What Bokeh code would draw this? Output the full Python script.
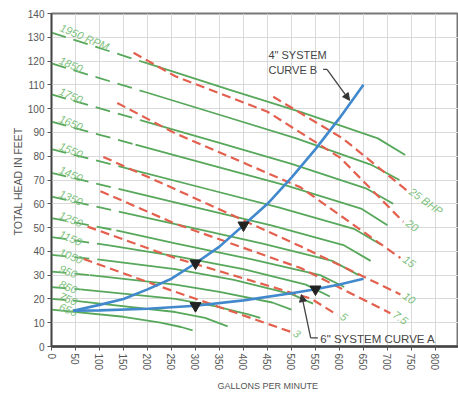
from bokeh.plotting import figure
from bokeh.models import Range1d, FixedTicker, Title, Arrow, NormalHead
from bokeh.core.properties import value
from bokeh.embed import file_html
from bokeh.resources import INLINE

# ---------------- data ----------------
x_ticks = list(range(0, 851, 50))
y_ticks = list(range(0, 141, 10))

rpm_labels = ["1950 RPM", "1850", "1750", "1650", "1550", "1450", "1350",
              "1250", "1150", "1050", "950", "850", "750", "650"]
rpm_q = [
    [0, 200, 370, 520, 680, 737],
    [0, 195, 360, 510, 665, 725],
    [0, 185, 350, 500, 655, 712],
    [0, 175, 340, 490, 645, 700],
    [0, 165, 330, 475, 630, 685],
    [0, 155, 320, 460, 610, 665],
    [0, 145, 305, 440, 585, 640],
    [0, 135, 258, 420, 560, 610],
    [0, 120, 258, 400, 530, 580],
    [0, 100, 258, 380, 500, 545],
    [0, 80, 258, 350, 460, 500],
    [0, 60, 258, 340, 410, 435],
    [0, 45, 258, 320, 367],
    [0, 150, 227, 270, 294],
]
rpm_h = [
    [132, 119, 108, 98.5, 87.5, 80.5],
    [119, 107, 96.8, 87.5, 76.5, 70],
    [106, 95.2, 85.6, 76.8, 66.5, 60],
    [94.5, 84.9, 75.8, 67.6, 58, 51],
    [83, 74.5, 65.9, 58.4, 49.5, 43],
    [73, 65.5, 57.5, 50.8, 42.5, 36],
    [63, 56.5, 49.3, 43.2, 36, 30],
    [54, 48.8, 43.4, 36.5, 30, 25],
    [46, 42.5, 38, 32.5, 26, 21],
    [38.5, 36.5, 32.5, 28, 22, 18],
    [31.5, 30, 26, 23, 18.5, 15.5],
    [25, 24, 20, 17, 13.5, 12],
    [20, 19.3, 14.5, 12, 8.5],
    [15.5, 12.5, 10, 8.2, 6.8],
]
# flow where each pump curve turns from dashed to solid
rpm_dash_end = [200, 195, 185, 175, 165, 155, 145, 135, 120, 100, 80, 60, 45, 0]

bhp_labels = ["25 BHP", "20", "15", "10", "7.5", "5", "3"]
bhp_q = [
    [462, 606, 740],
    [171, 258, 450, 602, 733],
    [137, 258, 519, 727],
    [108, 258, 519, 727],
    [102, 258, 519, 706],
    [75, 258, 540, 596],
    [67, 221, 498],
]
bhp_h = [
    [105, 87.6, 65.7],
    [123.5, 113.6, 98.7, 79.3, 52.4],
    [102.4, 89.6, 66.9, 37.2],
    [79.7, 66.1, 42.1, 21.9],
    [65.3, 51.6, 33.0, 14.0],
    [50.4, 37.2, 20.2, 13.2],
    [36.8, 25.6, 6.2],
]

sysB_q = [45, 100, 150, 200, 250, 300, 350, 400, 450, 500, 550, 600, 650]
sysB_h = [15, 17.5, 20, 24, 28.5, 35, 42, 51, 60, 71, 83, 96, 110]
sysB_arrows = [5, 7]
sysA_q = [45, 100, 200, 300, 400, 500, 550, 600, 650]
sysA_h = [15, 15.2, 15.9, 17.1, 19.4, 22.4, 24.1, 26.1, 28.5]
sysA_arrows = [3, 6]

# ---------------- styles ----------------
FONT = value("Liberation Sans")
GREEN = "#58a85c"
GREEN_TXT = "#7dbf7d"
RED = "#e4604e"
BLUE = "#4189cc"
GRAY = "#555555"

p = figure(width=458, height=396, output_backend="svg", toolbar_location=None,
           x_range=Range1d(0, 848), y_range=Range1d(0, 140),
           min_border_left=51, min_border_right=0, min_border_top=13,
           min_border_bottom=44)
p.background_fill_color = "white"
p.outline_line_color = "#777777"
p.outline_line_width = 2

for ax, ticks in ((p.xaxis[0], x_ticks), (p.yaxis[0], y_ticks)):
    ax.ticker = FixedTicker(ticks=ticks)
    ax.major_label_text_font = "Liberation Sans"
    ax.major_label_text_font_size = "10px"
    ax.major_label_text_color = GRAY
    ax.minor_tick_line_color = None
    ax.major_tick_in = 0
    ax.major_tick_out = 4
    ax.major_tick_line_color = GRAY
    ax.axis_line_color = "#444444"
    ax.major_label_standoff = 3
p.xaxis.axis_line_width = 2.5
p.yaxis.axis_line_width = 1.5
p.xaxis.major_label_orientation = "vertical"

p.xgrid.ticker = FixedTicker(ticks=x_ticks)
p.ygrid.ticker = FixedTicker(ticks=y_ticks)
p.grid.grid_line_color = "#d9d9d9"
p.grid.grid_line_width = 1

p.add_layout(Title(text="GALLONS PER MINUTE", align="left", offset=166,
                   text_font="Liberation Sans", text_font_size="9px",
                   text_font_style="normal", text_color=GRAY, standoff=11), "below")
p.add_layout(Title(text="TOTAL HEAD IN FEET", align="left", offset=111,
                   text_font="Liberation Sans", text_font_size="10.5px",
                   text_font_style="normal", text_color=GRAY, standoff=2), "left")

# pump curves
for lab, q, h, d in zip(rpm_labels, rpm_q, rpm_h, rpm_dash_end):
    i = q.index(d)
    if i > 0:
        p.line(q[:i + 1], h[:i + 1], line_color=GREEN, line_width=1.8,
               line_dash="15 8")
    p.line(q[i:], h[i:], line_color=GREEN, line_width=1.8)
    p.text(x=[q[0] + 14], y=[h[0]], text=[lab], angle=-0.4,
           text_font=FONT, text_font_style="italic", text_font_size="11px",
           text_color=GREEN_TXT, text_baseline="bottom", text_align="left")

# BHP lines
for lab, q, h in zip(bhp_labels, bhp_q, bhp_h):
    p.line(q, h, line_color=RED, line_width=2.2, line_dash="9 5")
    p.text(x=[q[-1]], y=[h[-1]], text=[lab], angle=-0.62, x_offset=4,
           text_font=FONT, text_font_style="italic", text_font_size="11px",
           text_color=GREEN_TXT, text_baseline="middle", text_align="left")

# system curves
p.line(sysB_q, sysB_h, line_color=BLUE, line_width=2.6)
p.line(sysA_q, sysA_h, line_color=BLUE, line_width=2.6)
p.scatter([sysB_q[i] for i in sysB_arrows], [sysB_h[i] for i in sysB_arrows],
          marker="inverted_triangle", size=11, color="#222222")
p.scatter([sysA_q[i] for i in sysA_arrows], [sysA_h[i] for i in sysA_arrows],
          marker="inverted_triangle", size=11, color="#222222")

# annotations
p.text(x=[452, 452], y=[122.5, 116.3], text=['4" SYSTEM', "CURVE B"],
       text_font=FONT, text_font_size="11px", text_color="#444444",
       text_baseline="middle", text_align="left")
p.line([566, 574], [116.5, 116.5], line_color="#444444", line_width=1.3)
p.add_layout(Arrow(end=NormalHead(size=7, fill_color="#333333", line_color="#333333"),
                   x_start=574, y_start=116.5, x_end=621, y_end=103.5,
                   line_color="#444444", line_width=1.3))

p.text(x=[560], y=[3.0], text=['6" SYSTEM CURVE A'],
       text_font=FONT, text_font_size="11.5px", text_color="#444444",
       text_baseline="middle", text_align="left")
p.line([555, 540], [3.6, 3.6], line_color="#444444", line_width=1.3)
p.add_layout(Arrow(end=NormalHead(size=7, fill_color="#333333", line_color="#333333"),
                   x_start=540, y_start=3.6, x_end=521, y_end=21.8,
                   line_color="#444444", line_width=1.3))

open("out.html", "w").write(file_html(p, INLINE))
